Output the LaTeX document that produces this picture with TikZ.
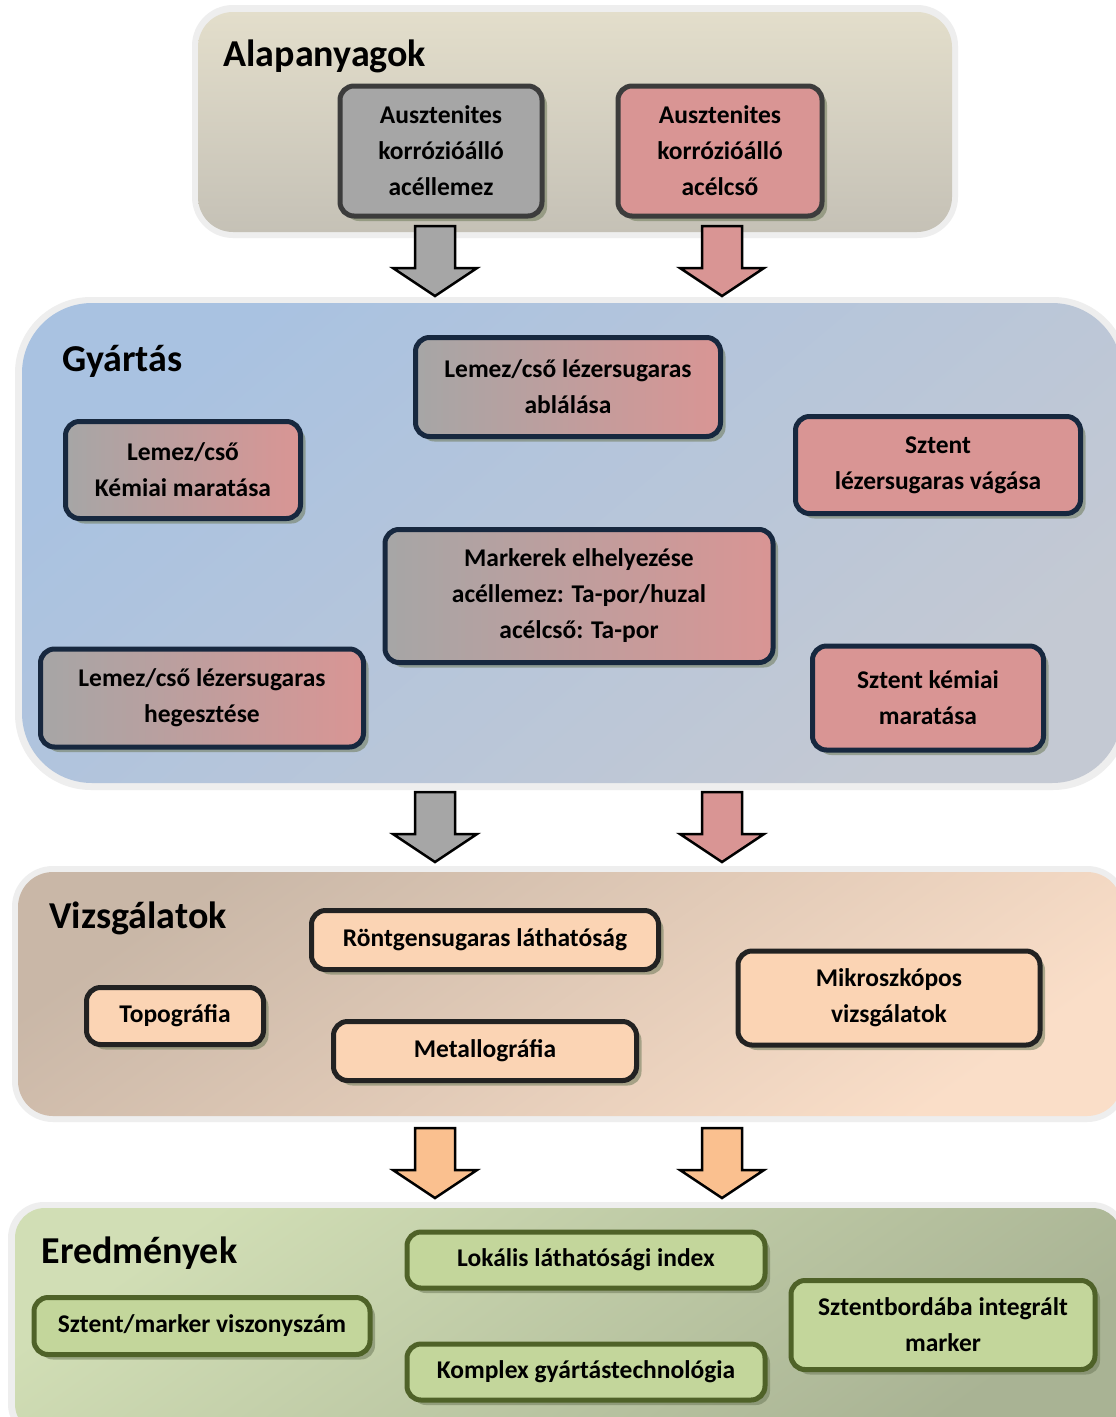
\documentclass[tikz,border=0pt]{standalone}
\usepackage{fontspec}
\setmainfont{Carlito}
\usetikzlibrary{shadows}
\definecolor{boxgray}{HTML}{A6A6A6}
\definecolor{boxpink}{HTML}{D99594}
\definecolor{boxpeach}{HTML}{FBD4B4}
\definecolor{boxgreen}{HTML}{C3D69B}
\definecolor{arroworange}{HTML}{FAC08F}
\definecolor{edgegray}{HTML}{3C3C3C}
\definecolor{edgenavy}{HTML}{17283F}
\definecolor{edgeblack}{HTML}{222222}
\definecolor{edgeolive}{HTML}{4F6228}
\definecolor{shadowcol}{HTML}{6F7B5A}
\definecolor{halo}{HTML}{EEEEEE}
\definecolor{alaptop}{HTML}{E3DECB}
\definecolor{alapbot}{HTML}{C5C1B6}
\definecolor{gyartop}{HTML}{A9C2E1}
\definecolor{gyarbot}{HTML}{C4C9D3}
\definecolor{vizstop}{HTML}{C9B7A7}
\definecolor{vizsbot}{HTML}{FADEC8}
\definecolor{eredtop}{HTML}{D1DEB5}
\definecolor{eredbot}{HTML}{A9B394}

\begin{document}
\begin{tikzpicture}[
    x=1pt, y=-1pt,
    box/.style={
        rounded corners=14pt,
        line width=5pt,
        inner sep=0pt,
        align=center,
        font=\fontsize{25.5}{36}\selectfont\bfseries,
        drop shadow={shadow xshift=5pt, shadow yshift=-5pt, fill=shadowcol, opacity=.55},
    },
    graybox/.style={box, fill=boxgray, draw=edgegray},
    pinkbox/.style={box, fill=boxpink, draw=edgenavy},
    mixbox/.style={box, left color=boxgray, right color=boxpink, draw=edgenavy},
    peachbox/.style={box, fill=boxpeach, draw=edgeblack},
    greenbox/.style={box, fill=boxgreen, draw=edgeolive},
    paneltitle/.style={anchor=west, font=\fontsize{38}{44}\selectfont\bfseries},
    blockarrow/.style={draw=black, line width=2.5pt, line join=miter},
]

\clip (0,0) rectangle (1116,1417);
\fill[white] (0,0) rectangle (1116,1417);

% =============================================
% ALAPANYAGOK
% =============================================
\fill[halo, rounded corners=41pt] (192,5) rectangle (958,238);
\shade[rounded corners=35pt, top color=alaptop, bottom color=alapbot]
    (198,12) rectangle (952,232);
\node[paneltitle] (alaptitle) at (220,56) {Alapanyagok};

\node[graybox, minimum width=202pt, minimum height=130pt] (lemez) at (441,151)
    {Ausztenites\\korrózióálló\\acéllemez};
\node[box, fill=boxpink, draw=edgegray, minimum width=204pt, minimum height=130pt] (cso) at (720,151)
    {Ausztenites\\korrózióálló\\acélcső};

% =============================================
% GYÁRTÁS
% =============================================
\fill[halo, rounded corners=76pt] (15,297) rectangle (1129,790);
\shade[rounded corners=70pt, top color=gyartop, bottom color=gyarbot, shading angle=40]
    (22,303) rectangle (1122,783);
\node[paneltitle] (gyartitle) at (59,361) {Gyártás};

\node[mixbox, minimum width=305pt, minimum height=99pt] (ablalas) at (568,387)
    {Lemez/cső lézersugaras\\ablálása};
\node[mixbox, minimum width=235pt, minimum height=97pt] (kemmarat) at (183,470)
    {Lemez/cső\\Kémiai maratása};
\node[pinkbox, minimum width=285pt, minimum height=97pt] (vagas) at (938,465)
    {Sztent\\lézersugaras vágása};
\node[mixbox, minimum width=388pt, minimum height=133pt] (markerek) at (579,596)
    {Markerek elhelyezése\\acéllemez: Ta-por/huzal\\acélcső: Ta-por};
\node[mixbox, minimum width=323pt, minimum height=98pt] (hegesztes) at (202,698)
    {Lemez/cső lézersugaras\\hegesztése};
\node[pinkbox, minimum width=231pt, minimum height=104pt] (sztmarat) at (928,698)
    {Sztent kémiai\\maratása};

% =============================================
% VIZSGÁLATOK
% =============================================
\fill[halo, rounded corners=41pt] (12,866) rectangle (1128,1122);
\shade[rounded corners=35pt, top color=vizstop, bottom color=vizsbot, shading angle=35]
    (18,872) rectangle (1122,1116);
\node[paneltitle] (vizstitle) at (46,918) {Vizsgálatok};

\node[peachbox, minimum width=347pt, minimum height=59pt] (rontgen) at (485,940)
    {Röntgensugaras láthatóság};
\node[peachbox, minimum width=177pt, minimum height=57pt] (topo) at (175,1016)
    {Topográfia};
\node[peachbox, minimum width=303pt, minimum height=59pt] (metallo) at (485,1051)
    {Metallográfia};
\node[peachbox, minimum width=302pt, minimum height=94pt] (mikro) at (889,998)
    {Mikroszkópos\\vizsgálatok};

% =============================================
% EREDMÉNYEK
% =============================================
\fill[halo, rounded corners=36pt] (8,1202) rectangle (1128,1440);
\shade[rounded corners=30pt, top color=eredtop, bottom color=eredbot, shading angle=35]
    (15,1208) rectangle (1122,1434);
\node[paneltitle] (eredtitle) at (38,1253) {Eredmények};

\node[greenbox, minimum width=358pt, minimum height=56pt] (lokalis) at (586,1260)
    {Lokális láthatósági index};
\node[greenbox, minimum width=336pt, minimum height=57pt] (arany) at (202,1326)
    {Sztent/marker viszonyszám};
\node[greenbox, minimum width=358pt, minimum height=56pt] (komplex) at (586,1372)
    {Komplex gyártástechnológia};
\node[greenbox, minimum width=304pt, minimum height=89pt] (integralt) at (943,1325)
    {Sztentbordába integrált\\marker};

% =============================================
% BLOCK ARROWS between the panels
% =============================================
\foreach \ax/\ay/\acol in {435/226/boxgray, 722/226/boxpink,
                           435/792/boxgray, 722/792/boxpink,
                           435/1128/arroworange, 722/1128/arroworange}{
  \filldraw[blockarrow, fill=\acol]
    (\ax-20,\ay) -- (\ax+20,\ay) -- (\ax+20,\ay+42) -- (\ax+42,\ay+42)
    -- (\ax,\ay+70) -- (\ax-42,\ay+42) -- (\ax-20,\ay+42) -- cycle;
}

\end{tikzpicture}
\end{document}
